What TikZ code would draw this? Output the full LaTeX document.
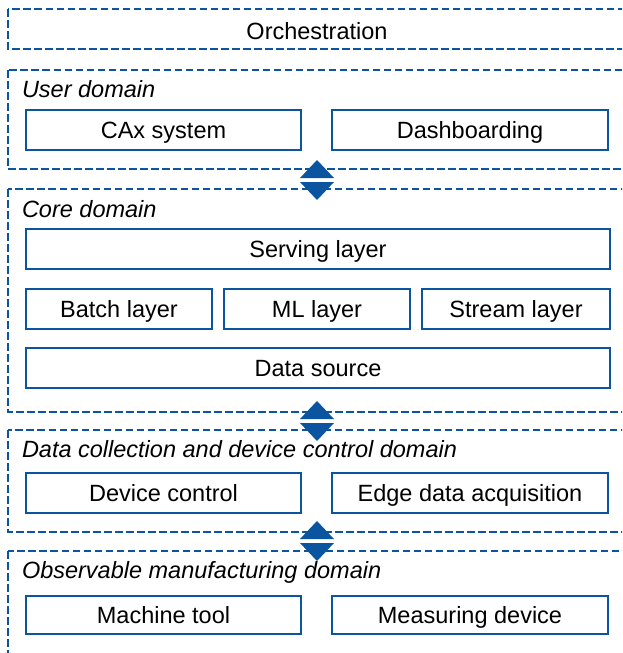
\documentclass[tikz,border=0pt]{standalone}
\usepackage{fontspec}
\setmainfont{Liberation Sans}
\begin{document}
\begin{tikzpicture}[x=1pt,y=-1pt,
  every node/.style={inner sep=0pt, outer sep=0pt},
  domainbox/.style={draw=tblue, line width=1.9pt, dash pattern=on 7.5pt off 3.5pt},
  boxtext/.style={font=\fontsize{23.5}{26}\selectfont, text height=16.8pt, text depth=0pt},
  compbox/.style={boxtext, draw=tblue, line width=2.2pt, fill=white},
  domainlabel/.style={anchor=base west, font=\fontsize{23.5}{26}\selectfont\itshape},
  flowtip/.style={fill=tblue, draw=none}]
\definecolor{tblue}{RGB}{10,84,160}

\clip (0,0) rectangle (622,653);
\useasboundingbox (0,0) rectangle (622,653);

% domain frames (open to the right and bottom edge of the sheet)
\draw[domainbox] (8,9) rectangle (700,49);
\draw[domainbox] (8,70) rectangle (700,169);
\draw[domainbox] (8,189) rectangle (700,412);
\draw[domainbox] (8,430) rectangle (700,532);
\draw[domainbox] (8,551) rectangle (700,720);

% headings
\node[boxtext] (orch) at (317,31) {Orchestration};
\node[domainlabel] (userlbl) at (22,97) {User domain};
\node[domainlabel] (corelbl) at (22,217) {Core domain};
\node[domainlabel] (datalbl) at (22,457) {Data collection and device control domain};
\node[domainlabel] (obslbl) at (22,578) {Observable manufacturing domain};

% component boxes: name, left, top, right, bottom, text
\newcommand{\compnode}[6]{%
  \node[compbox, minimum width=#4-#2, minimum height=#5-#3] (#1) at ({(#2+#4)/2},{(#3+#5)/2}) {#6};}
\compnode{cax}{26}{110}{301}{150}{CAx system}
\compnode{dash}{332}{110}{608}{150}{Dashboarding}
\compnode{serving}{26}{229}{610}{269}{Serving layer}
\compnode{batch}{26}{289}{212}{329}{Batch layer}
\compnode{ml}{224}{289}{410}{329}{ML layer}
\compnode{stream}{422}{289}{610}{329}{Stream layer}
\compnode{source}{26}{348}{610}{388}{Data source}
\compnode{devctl}{26}{473}{301}{513}{Device control}
\compnode{edge}{332}{473}{608}{513}{Edge data acquisition}
\compnode{machine}{26}{596}{301}{634}{Machine tool}
\compnode{measure}{332}{596}{608}{634}{Measuring device}

% bidirectional flow markers between domains
\newcommand{\flowpair}[2]{%
  \fill[flowtip] (#1-17,#2-2) -- (#1,#2-20) -- (#1+17,#2-2) -- cycle;
  \fill[flowtip] (#1-17,#2+2) -- (#1,#2+20) -- (#1+17,#2+2) -- cycle;}
\flowpair{317}{180}
\flowpair{317}{421}
\flowpair{317}{541}
\end{tikzpicture}
\end{document}
